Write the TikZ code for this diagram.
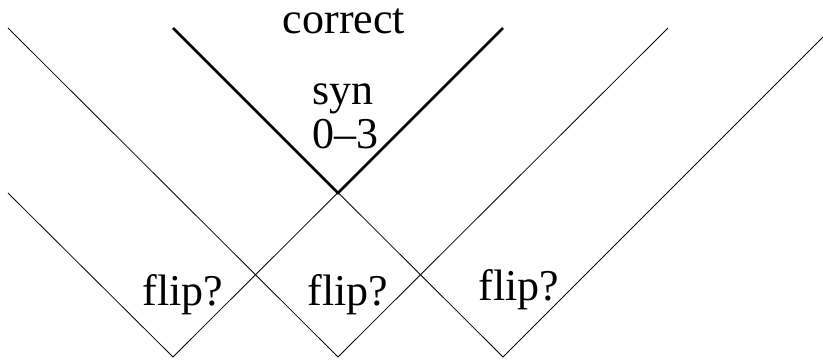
\documentclass[tikz,border=0pt]{standalone}
\usepackage{fontspec}
\setmainfont{Liberation Serif}
\begin{document}
\begin{tikzpicture}[x=1pt,y=-1pt]
	
	% ---- Adjustable widths ----
	\def\thinWidth{0.8pt}
	\def\thickWidth{2.6pt}
	\tikzset{
		lbl/.style={inner sep=0pt, font=\fontsize{44}{44}\selectfont},
	}
	\useasboundingbox (0,0) rectangle (823,360);
	
	% ---- Bottom vertices of the three V's ----
	\foreach \x/\name in {173/L, 338/M, 503/R}
	{
		\coordinate (b\name) at (\x,357);
	}
	
	% ---- Free ends of the arms ----
	\coordinate (tA) at (8,28);
	\coordinate (tB) at (173,28);
	\coordinate (tD) at (503,28);
	\coordinate (tE) at (668,28);
	\coordinate (sL) at (8,193);
	\coordinate (sR) at (823,37);
	\coordinate (center) at (338,193);
	
	% ---- Thin V's ----
	\draw[line width=\thinWidth] (tA) -- (bM) -- (tE);
	\draw[line width=\thinWidth] (sL) -- (bL) -- (tD);
	\draw[line width=\thinWidth] (tB) -- (bR) -- (sR);
	
	% ---- Thick V ----
	\draw[line width=\thickWidth] (tB) -- (center) -- (tD);
	
	% ---- Labels ----
	\node[lbl, anchor=base] (correct) at (344,33) {correct};
	\node[lbl, anchor=base west] (syn) at (312,104) {syn};
	\node[lbl, anchor=base west] (range) at (312,148) {0--3};
	\foreach \x/\y/\name in {183/305/L, 348/305/M, 519/300/R}
	{
		\node[lbl, anchor=base] (flip\name) at (\x,\y) {flip?};
	}
	
\end{tikzpicture}
\end{document}
